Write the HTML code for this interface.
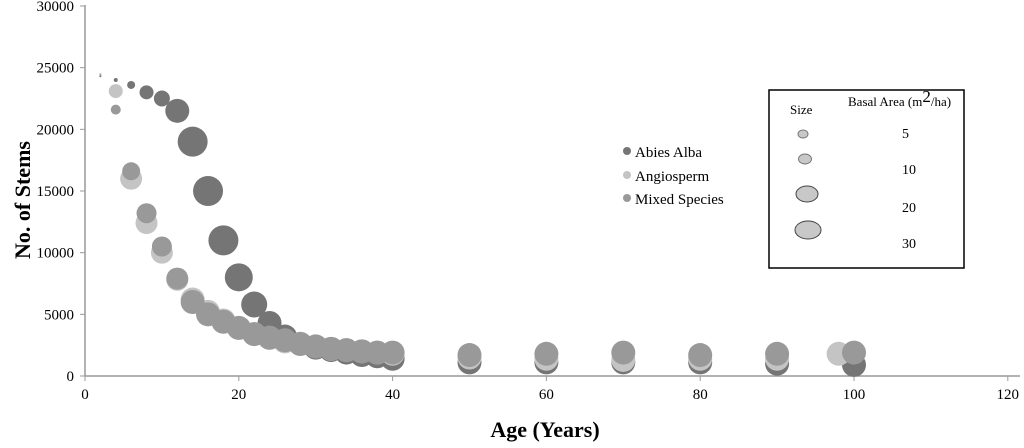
<!DOCTYPE html>
<html><head><meta charset="utf-8"><style>
body{margin:0;background:#fff;}
svg text{font-family:"Liberation Serif",serif;}
</style></head><body>
<svg id="chart" width="1024" height="443" viewBox="0 0 1024 443">
<g id="axes"></g>
<g id="marks"></g>
<text x="30" y="200" transform="rotate(-90 30 200)" text-anchor="middle" font-size="22" font-weight="bold">No. of Stems</text>
<text x="545" y="437" text-anchor="middle" font-size="22" font-weight="bold">Age (Years)</text>
<g>
<circle cx="627" cy="151" r="4" fill="#757575"/>
<text x="635" y="157" font-size="15">Abies Alba</text>
<circle cx="627" cy="175" r="4" fill="#c4c4c4"/>
<text x="635" y="181" font-size="15">Angiosperm</text>
<circle cx="627" cy="198" r="4" fill="#999"/>
<text x="635" y="204" font-size="15">Mixed Species</text>
</g>
<g>
<rect x="769" y="90" width="195" height="178" fill="none" stroke="#000" stroke-width="1.5"/>
<text x="790" y="114" font-size="13">Size</text>
<text x="848" y="106" font-size="13">Basal Area (m<tspan font-size="17" dy="-4">2</tspan><tspan dy="4">/ha)</tspan></text>
<ellipse cx="803" cy="134" rx="5" ry="4" fill="#c8c8c8" stroke="#777"/>
<ellipse cx="805" cy="159" rx="6.5" ry="5" fill="#c8c8c8" stroke="#777"/>
<ellipse cx="807" cy="194" rx="11" ry="8" fill="#c8c8c8" stroke="#444"/>
<ellipse cx="808" cy="230" rx="13" ry="9" fill="#c8c8c8" stroke="#444"/>
<text x="902" y="138" font-size="14">5</text>
<text x="902" y="174" font-size="14">10</text>
<text x="902" y="212" font-size="14">20</text>
<text x="902" y="248" font-size="14">30</text>
</g>
</svg>
<script>
const xTicks=[0,20,40,60,80,100,120];
const yTicks=[0,5000,10000,15000,20000,25000,30000];
const abiesAge=[2,4,6,8,10,12,14,16,18,20,22,24,26,28,30,32,34,36,38,40,50,60,70,80,90,100];
const abiesStems=[24300,24000,23600,23000,22500,21500,19000,15000,11000,8000,5800,4300,3200,2600,2300,2100,1900,1700,1600,1400,1100,1100,1100,1100,1000,900];
const abiesSize=[1,2,4,7,8,12,15,15,15,14,13,12,12,12,12,12,12,12,12,12,12,12,12,12,12,12];
const angioAge=[2,4,6,8,10,12,14,16,18,20,22,24,26,28,30,32,34,36,38,40,50,60,70,80,90,98];
const angioStems=[24500,23100,16000,12400,10000,7800,6200,5200,4500,3900,3400,3100,2800,2600,2400,2200,2100,2000,1900,1800,1500,1400,1300,1400,1400,1800];
const angioSize=[1,7,11,11,11,11,12,12,12,12,12,12,12,12,12,12,12,12,12,12,12,12,12,12,12,12];
const mixedAge=[2,4,6,8,10,12,14,16,18,20,22,24,26,28,30,32,34,36,38,40,50,60,70,80,90,100];
const mixedStems=[24400,21600,16600,13200,10500,7900,6000,5000,4400,3900,3400,3100,2900,2600,2400,2200,2100,2000,1900,1900,1700,1800,1900,1700,1800,1900];
const mixedSize=[1,5,9,10,10,11,12,12,12,12,12,12,12,12,12,12,12,12,12,12,12,12,12,12,12,12];
const X=v=>85+v*7.69, Y=v=>376-v*0.012333;
const NS='http://www.w3.org/2000/svg';
const axes=document.getElementById('axes'), marks=document.getElementById('marks');
function mk(t,a,p){const e=document.createElementNS(NS,t);for(const k in a)e.setAttribute(k,a[k]);p.appendChild(e);return e;}
const xl=mk('line',{x1:85,y1:376,x2:1020,y2:376,stroke:'#999','stroke-width':1.5},axes);


const yl=mk('line',{x1:85,y1:5,x2:85,y2:376,stroke:'#999','stroke-width':1.5},axes);


xTicks.forEach(v=>{
  mk('line',{x1:X(v),y1:376,x2:X(v),y2:381,stroke:'#999'},axes);
  const t=mk('text',{x:X(v),y:399,'text-anchor':'middle','font-size':15},axes);t.textContent=v;
  
  
});
yTicks.forEach(v=>{
  mk('line',{x1:80,y1:Y(v),x2:85,y2:Y(v),stroke:'#999'},axes);
  const t=mk('text',{x:74,y:Y(v)+5,'text-anchor':'end','font-size':15},axes);t.textContent=v;
  
  
});
function series(ages,stems,sizes,col,name){
  ages.forEach((a,i)=>{
    const c=mk('circle',{cx:X(a),cy:Y(stems[i]),r:sizes[i],fill:col},marks);
    
    
  });
}
series(abiesAge,abiesStems,abiesSize,'#757575','abies');
series(angioAge,angioStems,angioSize,'#c4c4c4','angiosperm');
series(mixedAge,mixedStems,mixedSize,'#999999','mixed');
</script>
</body></html>
